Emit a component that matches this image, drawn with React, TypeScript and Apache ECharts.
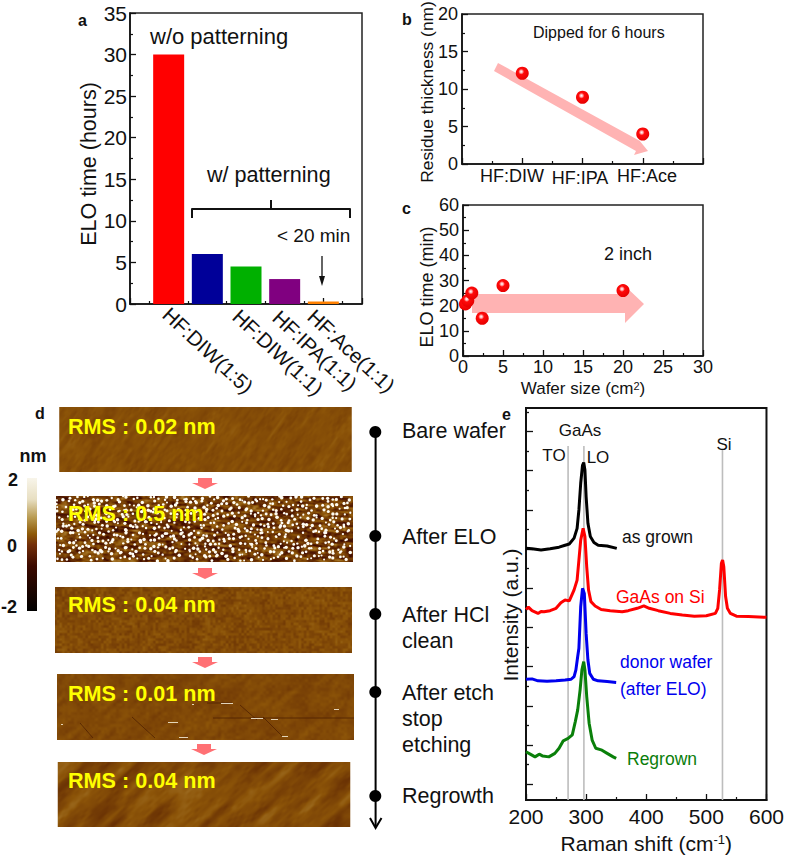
import React, { useEffect, useRef } from "react";
import * as echarts from "echarts";

const FONT = '"Liberation Sans", Arial, sans-serif';

// Panel a
const barCategories = ["HF:DIW(1:5)", "HF:DIW(1:1)", "HF:IPA(1:1)", "HF:Ace(1:1)"];
const barPositions = [1, 2, 3, 4, 5];
const barValues = [30, 6, 4.5, 3, 0.3];
const barColors = ["#ff0000", "#000099", "#00b000", "#800080", "#ff8000"];

// Panel b
const residueLabels = ["HF:DIW", "HF:IPA", "HF:Ace"];
const residuePositions = [1, 2, 3];
const residueValues = [12.1, 8.9, 4];

// Panel c
const waferSizes = [0.3, 0.6, 1.1, 2.4, 5, 20];
const waferTimes = [20.7, 22, 25, 15, 28, 26];

// Panel e (intensity in arbitrary units)
const asGrown = [[200,64.2],[210,64.1],[225,63.8],[240,64.1],[255,64.5],[265,65],[272,65.3],[280,66.8],[285,69.3],[288,74],[291,80.8],[294,85.4],[296,86.1],[298,84.2],[300,77.4],[303,70.6],[307,67.2],[313,65.7],[320,65],[335,64.8],[351,64.2]];
const gaasOnSi = [[200,48.6],[204,49.2],[210,48.3],[220,47.6],[225,48.1],[230,48],[240,48.3],[250,48.9],[258,50.3],[265,51],[272,50.8],[280,53.6],[285,56.1],[288,61.2],[291,66.3],[295,69.3],[298,67.2],[301,59.5],[304,53.6],[308,50.6],[315,49.5],[325,48.6],[340,48.3],[360,48],[370,48.3],[385,48.9],[396,49.5],[405,48.9],[420,48.3],[440,47.6],[460,47.2],[480,46.9],[500,47],[515,47.6],[519,48.9],[522,53.6],[525,60.4],[527,61.2],[529,59.5],[532,51.9],[535,48.9],[540,47.6],[550,46.9],[570,46.8],[600,46.6]];
const donorWafer = [[200,30.8],[210,30.9],[220,30.4],[235,30.3],[250,30.4],[265,30.6],[275,30.8],[280,31.5],[283,33.2],[286,36.6],[288,38.7],[291,49.3],[294,54],[297,52.7],[300,42.5],[303,35.7],[306,32.3],[312,30.8],[320,30.4],[335,30.2],[350,30]];
const regrown = [[200,12.3],[207,11.7],[215,11],[222,11.7],[228,11.2],[238,11],[248,11.9],[255,13.2],[262,15.1],[270,15.7],[277,16.6],[282,20],[286,23],[290,28.1],[293,33.2],[296,35.3],[298,33.2],[301,26.4],[305,19.6],[310,15.3],[316,13.2],[325,12.8],[335,11.9],[345,11],[350,10.6]];
const phononLines = [[270, 90.3], [296.3, 90.3], [526.8, 89.3]];
const intensityMajorTicks = [4, 14, 24, 34, 44, 54, 64, 74, 84, 94];
const intensityMinorTicks = [9, 19, 29, 39, 49, 59, 69, 79, 89, 99];

// Panel d
const rmsLabels = ["RMS : 0.02 nm", "RMS : 0.5 nm", "RMS : 0.04 nm", "RMS : 0.01 nm", "RMS : 0.04 nm"];
const colorbarLabels = ["2", "0", "-2"];

const STOPS: [number, number[]][] = [
  [0, [0, 0, 0]],
  [0.25, [72, 16, 0]],
  [0.5, [140, 84, 8]],
  [0.75, [200, 168, 96]],
  [1, [255, 255, 255]],
];
function heightColor(t: number) {
  const v = Math.min(1, Math.max(0, t));
  for (let i = 1; i < STOPS.length; i++) {
    if (v <= STOPS[i][0]) {
      const a = STOPS[i - 1], b = STOPS[i];
      const f = (v - a[0]) / (b[0] - a[0]);
      return a[1].map((c, k) => c + (b[1][k] - c) * f);
    }
  }
  return STOPS[4][1];
}
function grain(x: number, y: number, s: number) {
  const v = Math.sin(x * 127.1 + y * 311.7 + s * 74.7) * 43758.5453;
  return v - Math.floor(v);
}
function soft(x: number, y: number, s: number) {
  const ix = Math.floor(x), iy = Math.floor(y);
  let fx = x - ix, fy = y - iy;
  fx = fx * fx * (3 - 2 * fx);
  fy = fy * fy * (3 - 2 * fy);
  const a = grain(ix, iy, s), b = grain(ix + 1, iy, s), c = grain(ix, iy + 1, s), d = grain(ix + 1, iy + 1, s);
  return a + (b - a) * fx + (c - a) * fy + (a - b - c + d) * fx * fy;
}
function layer(x: number, y: number, deg: number, along: number, across: number, s: number) {
  const r = (deg * Math.PI) / 180;
  const u = x * Math.cos(r) + y * Math.sin(r);
  const v = -x * Math.sin(r) + y * Math.cos(r);
  return soft(u / along, v / across, s) - 0.5;
}

function afmTexture(kind: number) {
  const W = 297, H = 66;
  const cv = document.createElement("canvas");
  cv.width = W; cv.height = H;
  const ctx = cv.getContext("2d")!;
  const img = ctx.createImageData(W, H);
  for (let y = 0; y < H; y++) {
    for (let x = 0; x < W; x++) {
      let t = 0.5;
      if (kind === 0) t = 0.475 + 0.06 * layer(x, y, -55, 26, 4, 1) + 0.04 * layer(x, y, -55, 5, 2, 2);
      if (kind === 1) t = 0.4 + 0.3 * layer(x, y, 4, 9, 2.2, 3) + 0.2 * layer(x, y, 0, 3, 2, 4);
      if (kind === 2) t = 0.465 + 0.1 * layer(x, y, 0, 2.6, 2.6, 5) + 0.04 * layer(x, y, 30, 12, 8, 6);
      if (kind === 3) t = 0.455 + 0.06 * layer(x, y, -40, 14, 5, 7) + 0.04 * layer(x, y, 0, 3, 3, 8);
      if (kind === 4) t = 0.465 + 0.16 * layer(x, y, -42, 40, 7, 9) + 0.05 * layer(x, y, -42, 6, 2.5, 10);
      const c = heightColor(t);
      const p = (y * W + x) * 4;
      img.data[p] = c[0]; img.data[p + 1] = c[1]; img.data[p + 2] = c[2]; img.data[p + 3] = 255;
    }
  }
  ctx.putImageData(img, 0, 0);
  if (kind === 1) {
    ctx.fillStyle = "#fffdf4";
    for (let gy = 0; gy < 13; gy++) {
      for (let gx = 0; gx < 59; gx++) {
        if (grain(gx, gy, 11) < 0.08) continue;
        const px = gx * 5 + grain(gx, gy, 12) * 5;
        const py = gy * 5 + grain(gx, gy, 13) * 5;
        ctx.beginPath();
        ctx.arc(px, py, 1 + grain(gx, gy, 14) * 0.8, 0, Math.PI * 2);
        ctx.fill();
      }
    }
  }
  if (kind === 3) {
    ctx.strokeStyle = "rgba(70,25,0,0.75)";
    ctx.lineWidth = 0.9;
    const cracks = [[23,49,36,64],[75,43,98,64],[183,31,200,46],[206,43,226,63],[156,44,297,44],[150,29,175,29]];
    cracks.forEach((k) => { ctx.beginPath(); ctx.moveTo(k[0], k[1]); ctx.lineTo(k[2], k[3]); ctx.stroke(); });
    ctx.fillStyle = "rgba(246,238,218,0.85)";
    const flecks = [[111,48,10],[194,44,12],[214,45,7],[225,62,6],[122,63,9],[164,29,12],[277,35,5],[4,50,2],[135,30,2]];
    flecks.forEach((k) => ctx.fillRect(k[0], k[1], k[2], 1));
  }
  return cv.toDataURL("image/png");
}

function App() {
  const ref = useRef<HTMLDivElement>(null);
  useEffect(() => {
    document.body.style.margin = "0";
    const chart = echarts.init(ref.current!, undefined, { renderer: "svg" });

    const text = (t: string, x: number, y: number, size: number, extra: any = {}, opts: any = {}) => ({
      type: "text", x, y, silent: true, ...opts,
      style: { text: t, fill: "#111", fontFamily: FONT, fontSize: size, align: "left", verticalAlign: "middle", ...extra },
    });
    const center = { align: "center" };
    const bold = { fontWeight: "bold" };
    const ball = {
      type: "radial", x: 0.42, y: 0.38, r: 0.62,
      colorStops: [
        { offset: 0, color: "#ffffff" }, { offset: 0.16, color: "#ffb4b4" },
        { offset: 0.36, color: "#ff0a0a" }, { offset: 1, color: "#e60000" },
      ],
    };
    const afmBoxes = [
      [57, 407, 297, 65], [56, 496, 297, 66], [55, 587, 297, 66], [57, 674, 297, 66], [55.5, 762, 297, 65],
    ];
    const rmsY = [426, 513, 604, 693, 780];
    const stepArrows = [[205, 478], [205, 568], [205, 657], [204, 744]];
    const nodeY = [432, 536, 614, 692, 796];
    const steps: [string, number][] = [
      ["Bare wafer", 431], ["After ELO", 537], ["After HCl", 615], ["clean", 641],
      ["After etch", 693], ["stop", 719], ["etching", 745], ["Regrowth", 796],
    ];
    const rotatedStarts = [[171, 313], [241, 315], [281, 316], [316, 315]];
    const residueTextPos = [[512, 176], [580, 178], [647, 176]];
    const colorbarPos = [[13, 480], [12, 546], [9, 607]];

    const graphic: any[] = [
      // panel letters
      text("a", 78, 20, 16, bold, { z: 5 }),
      text("b", 402, 19, 16, bold),
      text("c", 402, 208, 16, bold),
      text("d", 35, 413, 16, bold),
      text("e", 502, 414, 16, bold),
      // panel a
      text("ELO time (hours)", 89, 164, 21.5, center, { rotation: Math.PI / 2 }),
      text("w/o patterning", 150, 36, 22),
      text("w/ patterning", 207, 174, 21.6),
      text("< 20 min", 277, 235, 19),
      { type: "polyline", shape: { points: [[192, 218], [192, 209], [350, 209], [350, 218]] }, style: { stroke: "#111", lineWidth: 2, fill: "none", lineJoin: "round" } },
      { type: "line", shape: { x1: 271, y1: 200, x2: 271, y2: 209 }, style: { stroke: "#111", lineWidth: 2 } },
      { type: "line", shape: { x1: 322, y1: 256, x2: 322, y2: 280 }, style: { stroke: "#111", lineWidth: 1.3 } },
      { type: "polygon", shape: { points: [[319, 276], [325, 276], [322, 286]] }, style: { fill: "#111" } },
      ...barCategories.map((c, i) => text(c, rotatedStarts[i][0] - 5, rotatedStarts[i][1] - 2, 20.5, {}, { rotation: -(43 * Math.PI) / 180 })),
      // panel b
      text("Residue thickness (nm)", 427, 92, 17.4, center, { rotation: Math.PI / 2 }),
      text("Dipped for 6 hours", 533, 32, 16),
      ...residueLabels.map((c, i) => text(c, residueTextPos[i][0], residueTextPos[i][1], 18, center)),
      { type: "polygon", shape: { points: [[498, 63], [640, 141], [639, 140], [648, 151], [634, 155], [636, 151], [494, 71]] }, style: { fill: "#ffb3b3" } },
      // panel c
      text("ELO time (min)", 427, 287, 18, center, { rotation: Math.PI / 2 }),
      text("2 inch", 604, 254, 18),
      { type: "polygon", shape: { points: [[472, 294], [625, 294], [625, 286], [644, 304], [625, 323], [625, 313], [472, 313]] }, style: { fill: "#ffb3b3" } },
      // panel d images
      ...afmBoxes.map((b, i) => ({ type: "image", silent: true, style: { image: afmTexture(i), x: b[0], y: b[1], width: b[2], height: b[3] } })),
      ...rmsLabels.map((t, i) => text(t, 68, rmsY[i], 21.6, { fill: "#ffff00", fontWeight: "bold" }, { z: 3 })),
      ...stepArrows.map((a) => ({
        type: "polygon",
        shape: { points: [[a[0] - 7, a[1]], [a[0] + 7, a[1]], [a[0] + 7, a[1] + 5], [a[0] + 13, a[1] + 5], [a[0], a[1] + 11], [a[0] - 13, a[1] + 5], [a[0] - 7, a[1] + 5]] },
        style: { fill: "#ff7074" },
      })),
      // colour bar
      {
        type: "rect", shape: { x: 27, y: 478, width: 10, height: 133 },
        style: {
          fill: {
            type: "linear", x: 0, y: 0, x2: 0, y2: 1,
            colorStops: [
              { offset: 0, color: "#f8f5ea" }, { offset: 0.16, color: "#e8dfc2" }, { offset: 0.3, color: "#b89a50" },
              { offset: 0.42, color: "#8e5a08" }, { offset: 0.5, color: "#74300a" }, { offset: 0.66, color: "#3c0a00" }, { offset: 1, color: "#000000" },
            ],
          },
        },
      },
      text("nm", 33, 456, 18, { align: "center", fontWeight: "bold" }),
      ...colorbarLabels.map((t, i) => text(t, colorbarPos[i][0], colorbarPos[i][1], 18, { align: "center", fontWeight: "bold" })),
      // timeline
      { type: "line", shape: { x1: 375.6, y1: 432, x2: 375.6, y2: 827 }, style: { stroke: "#000", lineWidth: 2 } },
      { type: "polyline", shape: { points: [[370, 818], [375.6, 828], [381.5, 818]] }, style: { stroke: "#000", lineWidth: 2, fill: "none" } },
      ...nodeY.map((y) => ({ type: "circle", shape: { cx: 375.3, cy: y, r: 6 }, style: { fill: "#000" } })),
      ...steps.map((s) => text(s[0], 402, s[1], 21.5)),
      // panel e
      text("Intensity (a.u.)", 510, 615, 21, center, { rotation: Math.PI / 2 }),
      text("GaAs", 580, 430, 17, center),
      text("TO", 554, 455, 17, center),
      text("LO", 598, 457, 17, center),
      text("Si", 724, 444, 17, center),
      text("as grown", 622, 537, 17.5, { fill: "#111" }),
      text("GaAs on Si", 616, 597, 17.5, { fill: "#ff0000" }),
      text("donor wafer", 620, 662, 17.5, { fill: "#0000ee" }),
      text("(after ELO)", 620, 689, 17.5, { fill: "#0000ee" }),
      text("Regrown", 627, 759, 17.5, { fill: "#0a7d0a" }),
    ];

    const valueAxis = (gridIndex: number, min: number, max: number, interval: number, fontSize: number, margin: number, extra: any = {}) => ({
      type: "value", gridIndex, min, max, interval,
      splitLine: { show: false },
      axisLine: { show: true, onZero: false, lineStyle: { color: "#111", width: 1.6 } },
      axisTick: { show: true, inside: true, length: 6, lineStyle: { color: "#111", width: 1.3 } },
      minorTick: { show: true, splitNumber: 2, length: 3, lineStyle: { color: "#111", width: 1.2 } },
      axisLabel: { show: true, color: "#111", fontFamily: FONT, fontSize, margin },
      ...extra,
    });
    const hidden = { axisLabel: { show: false } };
    const ramanLine = (data: number[][], color: string) => ({
      type: "line", xAxisIndex: 3, yAxisIndex: 3, data, showSymbol: false, symbol: "none", z: 3,
      lineStyle: { color, width: 3 }, itemStyle: { color },
    });

    chart.setOption({
      animation: false,
      textStyle: { fontFamily: FONT },
      grid: [
        { left: 130, top: 13, width: 232, height: 291, show: true, borderColor: "#222", borderWidth: 1.5, backgroundColor: "transparent" },
        { left: 462, top: 14, width: 241, height: 150, show: true, borderColor: "#222", borderWidth: 1.5, backgroundColor: "transparent" },
        { left: 463, top: 205, width: 240, height: 151, show: true, borderColor: "#222", borderWidth: 1.5, backgroundColor: "transparent" },
        { left: 526, top: 408, width: 242, height: 392, show: true, borderColor: "#111", borderWidth: 2, backgroundColor: "transparent" },
      ],
      xAxis: [
        valueAxis(0, 0, 6, 1, 18, 4, hidden),
        valueAxis(1, 0, 4, 1, 18, 4, hidden),
        valueAxis(2, 0, 30, 5, 18, 2, {
          name: "{a|Wafer size (cm}{s|2}{a|)}", nameLocation: "middle", nameGap: 24,
          nameTextStyle: { rich: { a: { fontSize: 17, fontFamily: FONT, color: "#111" }, s: { fontSize: 11, fontFamily: FONT, color: "#111", verticalAlign: "top" } } },
        }),
        valueAxis(3, 200, 600, 100, 21, 6, {
          axisLine: { show: true, onZero: false, lineStyle: { color: "#111", width: 2 } },
          name: "{a|Raman shift (cm}{s|-1}{a|)}", nameLocation: "middle", nameGap: 33,
          nameTextStyle: { rich: { a: { fontSize: 21, fontFamily: FONT, color: "#111" }, s: { fontSize: 13, fontFamily: FONT, color: "#111", verticalAlign: "top" } } },
        }),
      ],
      yAxis: [
        valueAxis(0, 0, 35, 5, 21, 3),
        valueAxis(1, 0, 20, 5, 18, 4),
        valueAxis(2, 0, 60, 10, 18, 4),
        {
          type: "value", gridIndex: 3, min: 0, max: 100, splitLine: { show: false },
          axisLine: { show: true, onZero: false, lineStyle: { color: "#111", width: 2 } },
          axisTick: { show: true, inside: true, length: 7, customValues: intensityMajorTicks, lineStyle: { color: "#111", width: 1.3 } },
          axisLabel: { show: false },
        },
        {
          type: "value", gridIndex: 3, min: 0, max: 100, splitLine: { show: false }, position: "left",
          axisLine: { show: false },
          axisTick: { show: true, inside: true, length: 3, customValues: intensityMinorTicks, lineStyle: { color: "#111", width: 1.3 } },
          axisLabel: { show: false },
        },
      ],
      graphic: { elements: graphic },
      series: [
        {
          type: "bar", xAxisIndex: 0, yAxisIndex: 0, barWidth: 31,
          data: barValues.map((v, i) => ({ value: [barPositions[i], v], itemStyle: { color: barColors[i] } })),
        },
        {
          type: "scatter", xAxisIndex: 1, yAxisIndex: 1, symbolSize: 13, itemStyle: { color: ball, opacity: 1 }, z: 4,
          data: residuePositions.map((p, i) => [p, residueValues[i]]),
        },
        {
          type: "scatter", xAxisIndex: 2, yAxisIndex: 2, symbolSize: 13, itemStyle: { color: ball, opacity: 1 }, z: 4,
          data: waferSizes.map((p, i) => [p, waferTimes[i]]),
        },
        ...phononLines.map((p) => ({
          type: "line", xAxisIndex: 3, yAxisIndex: 3, showSymbol: false, symbol: "none", z: 2,
          data: [[p[0], 0], [p[0], p[1]]], lineStyle: { color: "#bdbdbd", width: 1.6 },
        })),
        ramanLine(asGrown, "#000000"),
        ramanLine(gaasOnSi, "#ff0000"),
        ramanLine(donorWafer, "#0000ee"),
        ramanLine(regrown, "#0a800a"),
      ],
    });
    return () => chart.dispose();
  }, []);
  return <div ref={ref} style={{ width: 787, height: 856 }} />;
}

export default App;
